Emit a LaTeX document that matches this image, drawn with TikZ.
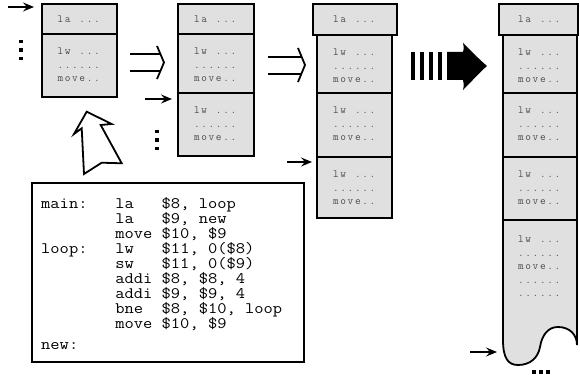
\documentclass[tikz,border=0pt]{standalone}
\usepackage{graphicx}
\usetikzlibrary{arrows.meta}

% letter-spaced typewriter text for the memory cells
\newcommand\spread[1]{\spreadloop#1\relax}
\def\spreadloop#1{\ifx\relax#1\else#1\kern1.6pt\expandafter\spreadloop\fi}

% one "lw / ...... / move.." block inside a cell starting at #3
\newcommand\bodytext[3]{%
  \node[boxtxt] (#1l) at (#2,#3+21) {\spread{lw~...}};
  \node[boxtxt] (#1d) at (#2,#3+35) {\spread{......}};
  \node[boxtxt] (#1m) at (#2,#3+48) {\spread{move..}};}

\tikzset{
  seg/.style={draw=black, line width=1.8pt, fill=black!12},
  boxtxt/.style={anchor=base, inner sep=0pt, text=black!70,
    font=\ttfamily\fontsize{11}{11}\selectfont},
  codeline/.style={anchor=base west, inner sep=0pt,
    font=\ttfamily\fontsize{16}{15}\selectfont},
  thinarrow/.style={line width=1.6pt, -{Stealth[length=11pt,width=9pt,inset=4pt]}},
  dblarrow/.style={line width=1.8pt},
  hollow/.style={line width=1.8pt, line join=miter},
}
\newcommand\cl[1]{\scalebox{1.125}[1]{#1}}

\begin{document}
\begin{tikzpicture}[x=1pt,y=-1pt]
\useasboundingbox (0,0) rectangle (580,379);

% ---- first copy of the code
\draw[seg] (42,34) rectangle (117,97);
\draw[seg] (42,4) rectangle (117,34);
\node[boxtxt] (c1la) at (79.5,23) {\spread{la~...}};
\bodytext{c1a}{79.5}{34}

% ---- second copy
\draw[seg] (178,34) rectangle (254,93);
\draw[seg] (178,93) rectangle (254,156);
\draw[seg] (178,4) rectangle (254,34);
\node[boxtxt] (c2la) at (216,23) {\spread{la~...}};
\bodytext{c2a}{216}{34}
\bodytext{c2b}{216}{93}

% ---- third copy
\draw[seg] (317,35) rectangle (392,93);
\draw[seg] (317,93) rectangle (392,157);
\draw[seg] (317,157) rectangle (392,218);
\draw[seg] (313,4) rectangle (397,35);
\node[boxtxt] (c3la) at (355,23) {\spread{la~...}};
\bodytext{c3a}{355}{35}
\bodytext{c3b}{355}{93}
\bodytext{c3c}{355}{157}

% ---- growing copy
\draw[seg] (503,35) rectangle (577,93);
\draw[seg] (503,93) rectangle (577,157);
\draw[seg] (503,157) rectangle (577,220);
\draw[seg] (503,220) -- (503,340)
  .. controls (503,358) and (508,365) .. (518,365)
  .. controls (530,365) and (538,358) .. (540,347)
  .. controls (542,335) and (548,327) .. (558,327)
  .. controls (570,327) and (577,335) .. (577,345)
  -- (577,220) -- cycle;
\draw[seg] (499,4) rectangle (578,35);
\node[boxtxt] (c4la) at (540,23) {\spread{la~...}};
\bodytext{c4a}{540}{35}
\bodytext{c4b}{540}{93}
\bodytext{c4c}{540}{157}
\node[boxtxt] (c4dl) at (540,242.5) {\spread{lw~...}};
\node[boxtxt] (c4dd) at (540,256) {\spread{......}};
\node[boxtxt] (c4dm) at (540,269.5) {\spread{move..}};
\node[boxtxt] (c4de) at (540,283) {\spread{......}};
\node[boxtxt] (c4df) at (540,296.5) {\spread{......}};

% ---- entry arrows
\coordinate (a1s) at (8,7);     \coordinate (a1e) at (34,7);
\coordinate (a2s) at (145,99);  \coordinate (a2e) at (172,99);
\coordinate (a3s) at (287,162); \coordinate (a3e) at (312,162);
\coordinate (a4s) at (470,352); \coordinate (a4e) at (497,352);
\draw[thinarrow] (a1s) -- (a1e);
\draw[thinarrow] (a2s) -- (a2e);
\draw[thinarrow] (a3s) -- (a3e);
\draw[thinarrow] (a4s) -- (a4e);

% ---- vertical and horizontal ellipses
\fill (18.5,40) rectangle (22.5,43.5);
\fill (18.5,48.3) rectangle (22.5,51.8);
\fill (18.5,56.7) rectangle (22.5,60.2);
\fill (155,130) rectangle (158.5,133.5);
\fill (155,138.3) rectangle (158.5,141.8);
\fill (155,146.7) rectangle (158.5,150.2);
\fill (532,370) rectangle (536,374.2);
\fill (539,370) rectangle (543,374.2);
\fill (546,370) rectangle (550,374.2);

% ---- double arrows between copies
\draw[dblarrow] (130,54) -- (161,54) (130,71) -- (161,71);
\draw[dblarrow] (157,46) .. controls (161,55) .. (164,62.5)
  .. controls (161,70) .. (157,79);
\draw[dblarrow] (268,57) -- (302,57) (268,74) -- (302,74);
\draw[dblarrow] (298,48) .. controls (302,57) .. (305,65)
  .. controls (302,73) .. (298,82);

% ---- dashed fat arrow
\fill (410.5,52) rectangle (415,80);
\fill (419.5,52) rectangle (424,80);
\fill (428.5,52) rectangle (433,80);
\fill (437.5,52) rectangle (442,80);
\fill (447,52) -- (463,52) .. controls (464,48) .. (463,43)
  .. controls (472,52) and (480,60) .. (487,66)
  .. controls (480,72) and (472,81) .. (463,90)
  .. controls (464,85) .. (463,80) -- (447,80) -- cycle;

% ---- hollow arrow from the source listing
\draw[hollow] (86.7,111.7) -- (74,134) -- (81.7,128.3) -- (84,174)
  -- (101.7,162.7) -- (121.7,163.3) -- (100.7,125) -- (111.7,124) -- cycle;

% ---- source listing
\draw[line width=1.8pt, fill=white] (32,183) rectangle (304,362);
\node[codeline] (k1)  at (41,208) {\cl{main:~~~la~~~\$8, loop}};
\node[codeline] (k2)  at (41,223) {\cl{~~~~~~~~la~~~\$9, new}};
\node[codeline] (k3)  at (41,238) {\cl{~~~~~~~~move \$10, \$9}};
\node[codeline] (k4)  at (41,253) {\cl{loop:~~~lw~~~\$11, 0(\$8)}};
\node[codeline] (k5)  at (41,268) {\cl{~~~~~~~~sw~~~\$11, 0(\$9)}};
\node[codeline] (k6)  at (41,283) {\cl{~~~~~~~~addi \$8, \$8, 4}};
\node[codeline] (k7)  at (41,298) {\cl{~~~~~~~~addi \$9, \$9, 4}};
\node[codeline] (k8)  at (41,313) {\cl{~~~~~~~~bne~~\$8, \$10, loop}};
\node[codeline] (k9)  at (41,328) {\cl{~~~~~~~~move \$10, \$9}};
\node[codeline] (k10) at (41,349) {\cl{new:}};
\end{tikzpicture}
\end{document}
